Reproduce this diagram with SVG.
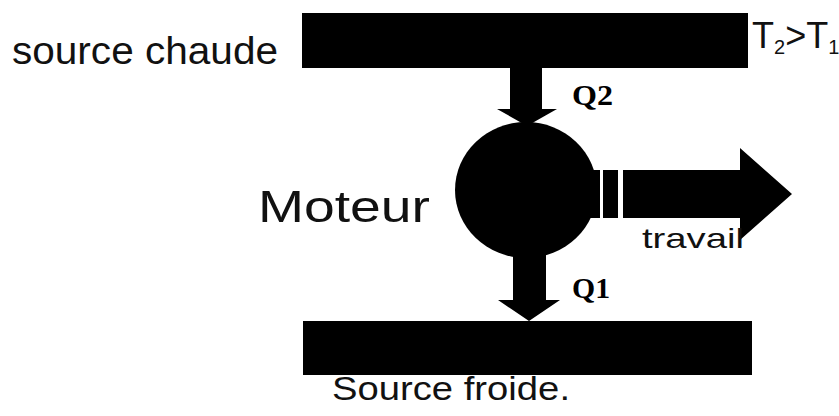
<svg xmlns="http://www.w3.org/2000/svg" width="839" height="416" viewBox="0 0 839 416">
<style>
.fill{fill:#000}
.hand{font-family:"Liberation Sans","DejaVu Sans",sans-serif;fill:#111}
.lbl{font-family:"Liberation Serif","DejaVu Serif",serif;font-weight:bold;font-size:30px;fill:#000}
</style>
<rect width="839" height="416" fill="#fff"/>
<g id="hot-source">
<rect class="fill" x="302" y="13" width="446" height="55"/>
<text class="hand" x="12" y="64" font-size="38" textLength="266" lengthAdjust="spacingAndGlyphs">source chaude</text>
<text class="hand" x="752" y="48" font-size="36">T<tspan font-size="20" dy="6">2</tspan><tspan dy="-6">&gt;</tspan>T<tspan font-size="20" dy="6">1</tspan></text>
</g>
<g id="engine">
<ellipse class="fill" cx="526" cy="190" rx="71" ry="68"/>
<text class="hand" x="258" y="222" font-size="44" textLength="172" lengthAdjust="spacingAndGlyphs">Moteur</text>
</g>
<g id="cold-source">
<rect class="fill" x="303" y="321" width="449" height="54"/>
<text class="hand" x="332" y="400" font-size="34" textLength="238" lengthAdjust="spacingAndGlyphs">Source froide.</text>
</g>
<g id="connectors">
<g id="q2">
<polygon class="fill" points="510,66 542,66 542,109 557,109 527,126 497,109 510,109"/>
<text class="lbl" x="572" y="105" textLength="41" lengthAdjust="spacingAndGlyphs">Q2</text>
</g>
<g id="q1">
<polygon class="fill" points="513,250 546,250 546,300 560,300 529,321 498,300 513,300"/>
<text class="lbl" x="572" y="298" textLength="38" lengthAdjust="spacingAndGlyphs">Q1</text>
</g>
<g id="work">
<rect class="fill" x="590" y="170" width="10" height="48"/>
<rect class="fill" x="603" y="170" width="15" height="48"/>
<polygon class="fill" points="623,170 740,170 740,148 792,194 740,240 740,218 623,218"/>
<text class="hand" x="642" y="248" font-size="28" textLength="102" lengthAdjust="spacingAndGlyphs">travail</text>
</g>
</g>
</svg>
